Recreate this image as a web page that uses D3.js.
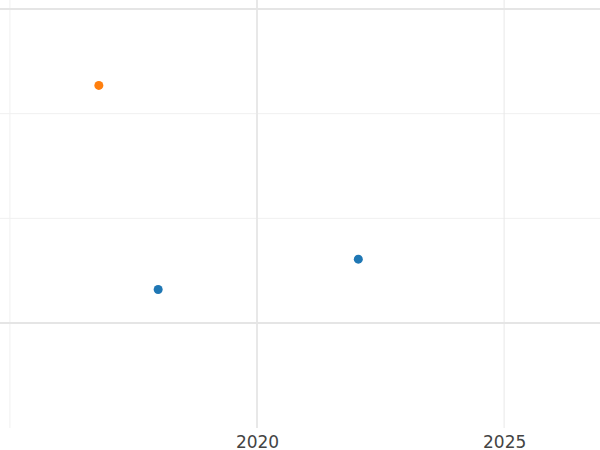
<!DOCTYPE html>
<html><head><meta charset="utf-8">
<script src="https://cdn.jsdelivr.net/npm/d3@7"></script>
<style>body{margin:0;background:#fff}</style></head>
<body><svg id="c" width="600" height="450"></svg>
<script>
const seriesA_x=[2016.8];
const seriesA_y=[2.27];
const seriesB_x=[2018.0,2022.05];
const seriesB_y=[0.32,0.61];
const xMajorTicks=[2020,2025];
const xMinorTicks=[2015];
const yMajorTicks=[0,3];
const yMinorTicks=[1,2];

const svg=d3.select("#c");
const x=d3.scaleLinear().domain([2014.8,2026.94]).range([0,600]);
const y=d3.scaleLinear().domain([-1.003,3.086]).range([428,0]);

const g=svg.append("g");
g.selectAll(".vmin").data(xMinorTicks).join("line").attr("x1",d=>x(d)).attr("x2",d=>x(d)).attr("y1",0).attr("y2",428).attr("stroke","#f0f0f0").attr("stroke-width",1);
g.selectAll(".hmin").data(yMinorTicks).join("line").attr("y1",d=>y(d)).attr("y2",d=>y(d)).attr("x1",0).attr("x2",600).attr("stroke","#f0f0f0").attr("stroke-width",1);
g.selectAll(".vmaj").data(xMajorTicks).join("line").attr("x1",d=>x(d)).attr("x2",d=>x(d)).attr("y1",0).attr("y2",428).attr("stroke","#e8e8e8").attr("stroke-width",d=>d===2020?2:1);
g.selectAll(".hmaj").data(yMajorTicks).join("line").attr("y1",d=>y(d)).attr("y2",d=>y(d)).attr("x1",0).attr("x2",600).attr("stroke","#e5e5e5").attr("stroke-width",2);

const ax=svg.append("g").attr("transform","translate(0,428)")
  .call(d3.axisBottom(x).tickValues(xMajorTicks).tickFormat(d3.format("d")).tickSize(0).tickPadding(8));
ax.select(".domain").remove();
ax.selectAll("text").attr("font-family","DejaVu Sans").attr("font-size",17).attr("fill","#444");

svg.selectAll(".a").data(seriesA_x).join("circle").attr("cx",d=>x(d)).attr("cy",(d,i)=>y(seriesA_y[i])).attr("r",4.5).attr("fill","#ff7f0e");
svg.selectAll(".b").data(seriesB_x).join("circle").attr("cx",d=>x(d)).attr("cy",(d,i)=>y(seriesB_y[i])).attr("r",4.5).attr("fill","#1f77b4");
</script></body></html>
